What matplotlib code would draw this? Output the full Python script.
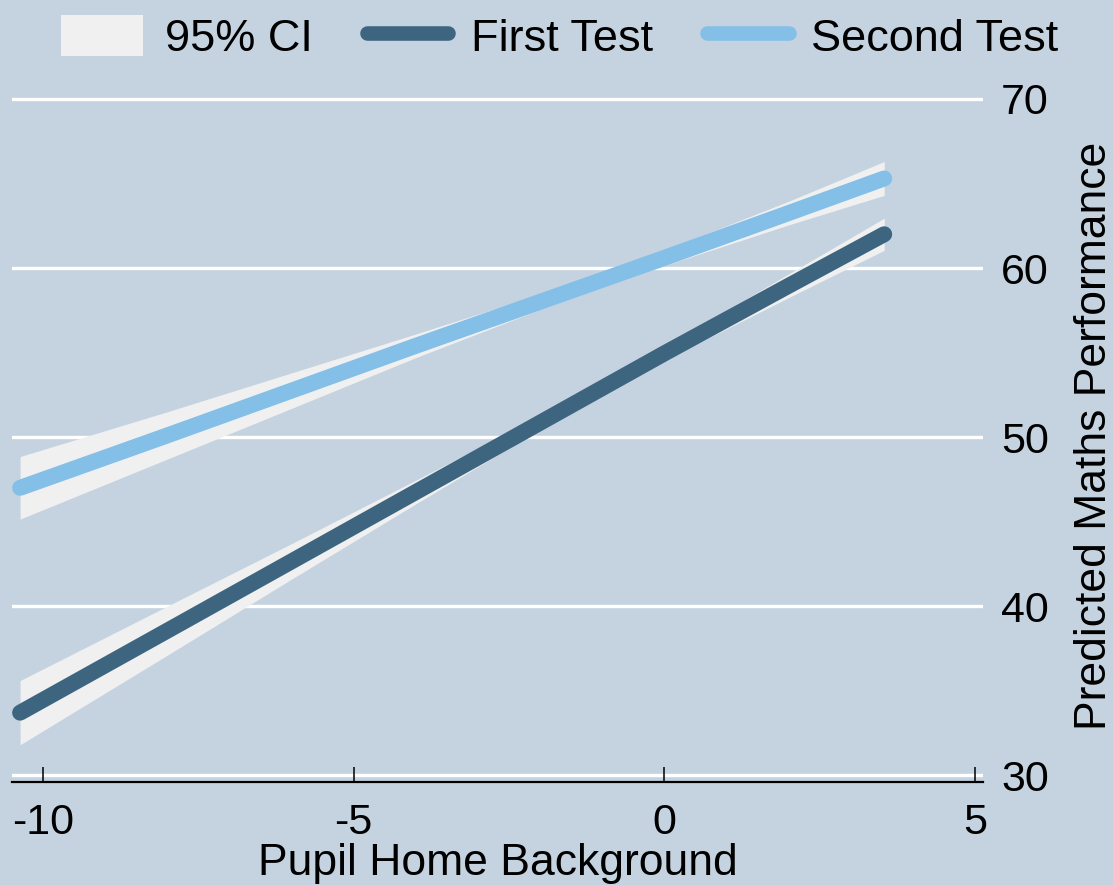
import numpy as np
import matplotlib
matplotlib.use("Agg")
from matplotlib import pyplot as plt
from matplotlib.patches import Patch
from matplotlib.lines import Line2D

matplotlib.rcParams['font.family'] = "Liberation Sans"

# predicted margins over pupil home background
home_bg = [-10.37, -8, -6, -4, -2, 0, 2, 3.54]

first_fit = [33.7, 38.55, 42.65, 46.75, 50.85, 54.95, 58.95, 62.0]
first_lo = [31.8, 37.1, 41.6, 46.05, 50.45, 54.55, 58.25, 61.05]
first_hi = [35.6, 40.0, 43.7, 47.45, 51.25, 55.35, 59.65, 62.95]

second_fit = [47.0, 50.1, 52.75, 55.4, 58.0, 60.6, 63.25, 65.3]
second_lo = [45.15, 48.7, 51.7, 54.7, 57.55, 60.15, 62.55, 64.3]
second_hi = [48.85, 51.5, 53.8, 56.1, 58.45, 61.05, 63.95, 66.3]

x_ticks = [-10, -5, 0, 5]
y_ticks = [30, 40, 50, 60, 70]

bg = '#C5D3E0'
ci_col = '#F0F0F0'
c_first = '#3E6580'
c_second = '#84BFE8'

fig = plt.figure(figsize=(11.13, 8.85), dpi=100)
fig.patch.set_facecolor(bg)
ax = fig.add_axes([0.0108, 0.1164, 0.8724, 0.7813])
ax.set_facecolor(bg)

for y in y_ticks:
    ax.axhline(y, color='white', lw=2.4, zorder=1)

ax.fill_between(home_bg, first_lo, first_hi, color=ci_col, lw=0, zorder=2)
ax.fill_between(home_bg, second_lo, second_hi, color=ci_col, lw=0, zorder=2)
ax.plot(home_bg, first_fit, color=c_first, lw=11.5, solid_capstyle='round', zorder=3)
ax.plot(home_bg, second_fit, color=c_second, lw=11.5, solid_capstyle='round', zorder=3)

ax.set_xlim(-10.5, 5.13)
ax.set_ylim(29.6, 70.5)
ax.set_xticks(x_ticks)
ax.set_xticklabels([str(v) for v in x_ticks])
ax.set_yticks(y_ticks)

for s in ['top', 'left', 'right']:
    ax.spines[s].set_visible(False)
ax.spines['bottom'].set_linewidth(1.6)
ax.spines['bottom'].set_color('black')

ax.tick_params(axis='x', direction='in', length=11, width=1.1, pad=15, labelsize=31, colors='black')
ax.tick_params(axis='y', left=False, right=True, labelleft=False, labelright=True,
               length=0, pad=13, labelsize=31)

ax.set_xlabel('Pupil Home Background', fontsize=32, labelpad=0)
ax.yaxis.set_label_position('right')
ax.set_ylabel('Predicted Maths Performance', fontsize=32, labelpad=18)

handles = [Patch(facecolor=ci_col, edgecolor='none', label='95% CI'),
           Line2D([], [], color=c_first, lw=10.5, solid_capstyle='round', label='First Test'),
           Line2D([], [], color=c_second, lw=10.5, solid_capstyle='round', label='Second Test')]
fig.legend(handles=handles, loc='center', bbox_to_anchor=(0.503, 0.958), ncol=3,
           frameon=False, fontsize=32.5, handlelength=1.8, handleheight=1.05,
           handletextpad=0.5, columnspacing=1.2)

fig.savefig('out.png', dpi=100, facecolor=bg)
